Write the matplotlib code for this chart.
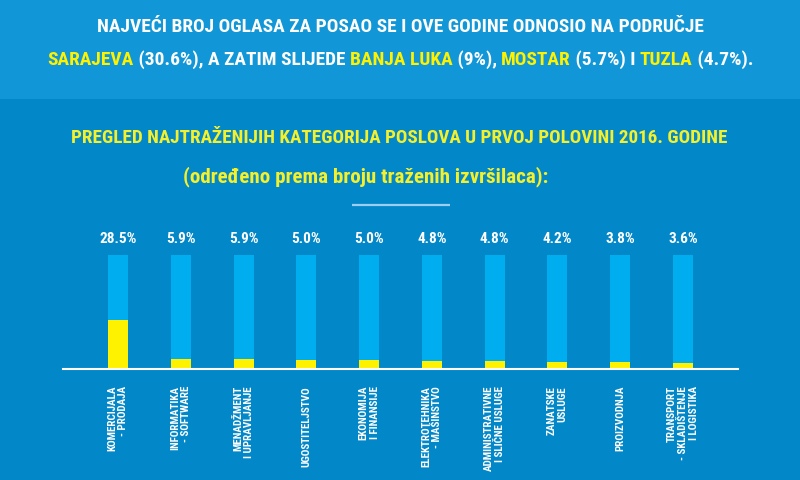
import matplotlib
matplotlib.use("Agg")
import matplotlib.pyplot as plt
from matplotlib.patches import Rectangle

# ---------------- data ----------------
categories = [
    "KOMERCIJALA\n- PRODAJA",
    "INFORMATIKA\n- SOFTWARE",
    "MENADŽMENT\nI UPRAVLJANJE",
    "UGOSTITELJSTVO",
    "EKONOMIJA\nI FINANSIJE",
    "ELEKTROTEHNIKA\n- MAŠINSTVO",
    "ADMINISTRATIVNE\nI SLIČNE USLUGE",
    "ZANATSKE\nUSLUGE",
    "PROIZVODNJA",
    "TRANSPORT\n- SKLADIŠTENJE\nI LOGISTIKA",
]
values = [28.5, 5.9, 5.9, 5.0, 5.0, 4.8, 4.8, 4.2, 3.8, 3.6]
value_labels = ["28.5%", "5.9%", "5.9%", "5.0%", "5.0%", "4.8%", "4.8%", "4.2%", "3.8%", "3.6%"]
scale_max = 66

title_line1 = "NAJVEĆI BROJ OGLASA ZA POSAO SE I OVE GODINE ODNOSIO NA PODRUČJE"
title_line2 = [("SARAJEVA", "y"), (" (30.6%), A ZATIM SLIJEDE ", "w"), ("BANJA LUKA", "y"),
               (" (9%), ", "w"), ("MOSTAR", "y"), (" (5.7%) I ", "w"), ("TUZLA", "y"),
               (" (4.7%).", "w")]
subtitle1 = "PREGLED NAJTRAŽENIJIH KATEGORIJA POSLOVA U PRVOJ POLOVINI 2016. GODINE"
subtitle2 = "(određeno prema broju traženih izvršilaca):"

# ---------------- style ----------------
TOP_BG = "#1197d7"
BG = "#0287c8"
CYAN = "#00aeef"
YELLOW = "#fff200"
SUB_YELLOW = "#f4f02c"
WHITE = "#ffffff"
FAM = ["Liberation Sans Narrow", "Roboto Condensed", "Liberation Sans", "DejaVu Sans"]

W, H = 800, 481
fig = plt.figure(figsize=(W / 100, H / 100), dpi=100)
fig.patch.set_facecolor(BG)

bgax = fig.add_axes([0, 0, 1, 1])
bgax.set_xlim(0, W)
bgax.set_ylim(H, 0)
bgax.axis("off")
bgax.add_patch(Rectangle((0, 0), W, 100, color=TOP_BG, lw=0))
bgax.plot([352, 450], [206, 206], color="#9ccfee", lw=1.6, solid_capstyle="butt")

fig.canvas.draw()
renderer = fig.canvas.get_renderer()


def text_width(s, fs, weight="bold"):
    t = bgax.text(0, 0, s + "|", fontsize=fs, family=FAM, fontweight=weight,
                  fontstretch="condensed")
    w1 = t.get_window_extent(renderer).width
    t.set_text("|")
    w2 = t.get_window_extent(renderer).width
    t.remove()
    return w1 - w2


def fit_size(s, target, weight="bold"):
    w = text_width(s, 20, weight)
    return 20 * target / w


# Title
fs_title = fit_size(title_line1, 607)
bgax.text(400.5, 27, title_line1, fontsize=fs_title, family=FAM, fontweight="bold",
          fontstretch="condensed", color=WHITE, ha="center", va="center")
widths = [text_width(p, fs_title) for p, _ in title_line2]
x = 400.5 - sum(widths) / 2
for (p, c), w in zip(title_line2, widths):
    bgax.text(x, 60, p, fontsize=fs_title, family=FAM, fontweight="bold",
              fontstretch="condensed", color=YELLOW if c == "y" else WHITE,
              ha="left", va="center")
    x += w

# Subtitle
fs_sub = fit_size(subtitle1, 655)
bgax.text(399.5, 138, subtitle1, fontsize=fs_sub, family=FAM, fontweight="bold",
          fontstretch="condensed", color=SUB_YELLOW, ha="center", va="center")
fs_sub2 = min(fit_size(subtitle2, 392), fs_sub * 1.1)
bgax.text(366, 177, subtitle2, fontsize=fs_sub2, family=FAM, fontweight="bold",
          fontstretch="condensed", color=SUB_YELLOW, ha="center", va="center")

# ---------------- bars ----------------
x0_px, x1_px = 63, 738
top_px, base_px = 256, 370
c_first, c_last = 118, 683
ppu = (c_last - c_first) / (len(values) - 1)
ax = fig.add_axes([x0_px / W, (H - base_px) / H, (x1_px - x0_px) / W, (base_px - top_px) / H])
ax.set_facecolor("none")
ax.set_xlim(-(c_first - x0_px) / ppu, (len(values) - 1) + (x1_px - c_last) / ppu)
ax.set_ylim(0, scale_max)
for s in ax.spines.values():
    s.set_visible(False)
ax.set_xticks([])
ax.set_yticks([])

xs = list(range(len(values)))
bw = 20 / ppu
ax.bar(xs, [scale_max] * len(values), width=bw, color=CYAN, lw=0)
ax.bar(xs, values, width=bw, color=YELLOW, lw=0)
ax.axhline(0, color=WHITE, lw=1.5, clip_on=False)

fs_cat = fit_size("ADMINISTRATIVNE", 86)
for i, (lab, cat) in enumerate(zip(value_labels, categories)):
    ax.annotate(lab, xy=(i, scale_max), xytext=(0, 17 * 0.72), textcoords="offset points",
                ha="center", va="center", fontsize=11, family=FAM, fontweight="bold",
                fontstretch="condensed", color=WHITE, annotation_clip=False)
    ax.annotate(cat, xy=(i, 0), xytext=(0, -16 * 0.72), textcoords="offset points",
                ha="center", va="top", rotation=90, multialignment="right",
                fontsize=fs_cat, family=FAM, fontweight="bold", fontstretch="condensed",
                color=WHITE, linespacing=1.1, annotation_clip=False)

fig.savefig("out.png", dpi=100, facecolor=fig.get_facecolor())
